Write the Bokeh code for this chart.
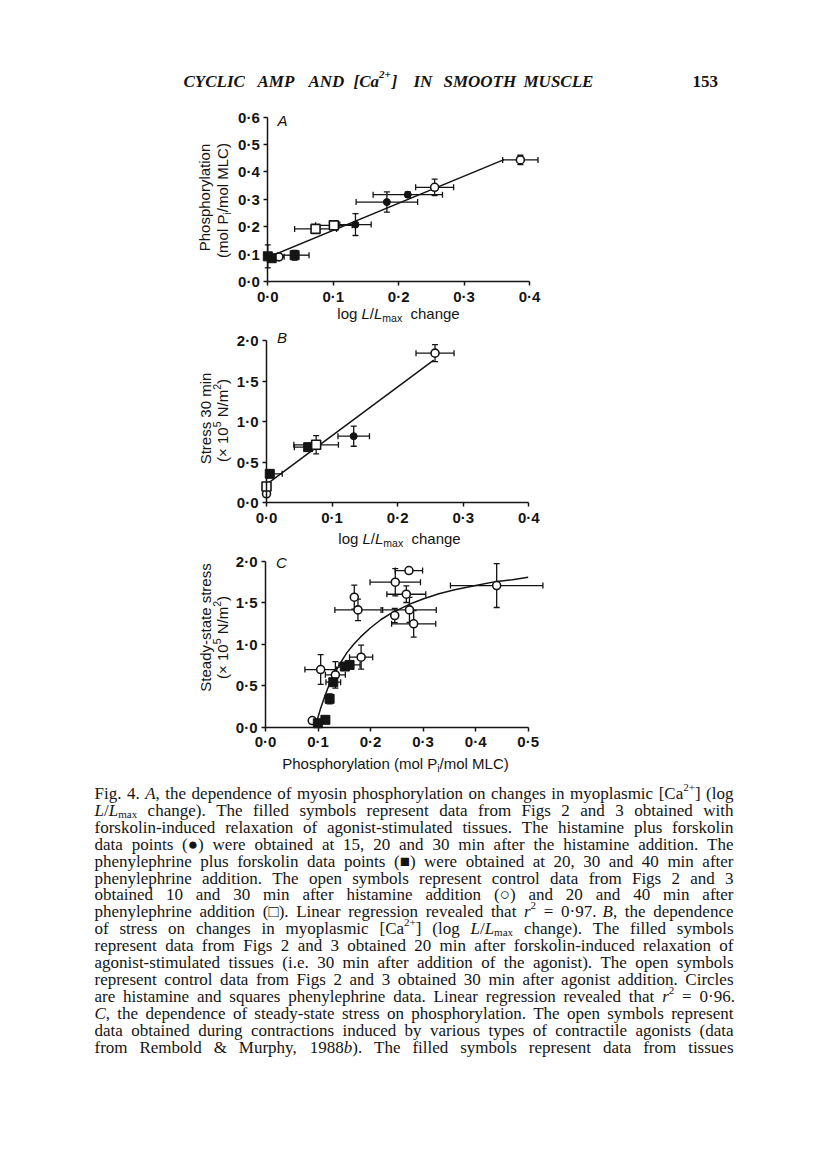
import math
from bokeh.plotting import figure
from bokeh.models import (Range1d, Whisker, ColumnDataSource, Label,
                          CustomJSTickFormatter, FixedTicker, TeeHead)
from bokeh.layouts import column
from bokeh.embed import file_html
from bokeh.resources import INLINE
from bokeh.core.properties import value

INK = "#141414"
SANS = "Liberation Sans"
SERIF = "Liberation Serif"
PAGE_W = 816

# ============================ DATA ============================
# ---- Panel A: phosphorylation vs log L/Lmax change ----
a_ticks_x = [0.0, 0.1, 0.2, 0.3, 0.4]
a_ticks_y = [0.0, 0.1, 0.2, 0.3, 0.4, 0.5, 0.6]
# histamine + forskolin (filled circles)
a_hf_x = [0.134, 0.182, 0.214]
a_hf_y = [0.208, 0.290, 0.317]
a_hf_xerr = [0.024, 0.047, 0.053]
a_hf_yerr = [0.040, 0.037, 0.010]
# phenylephrine + forskolin (filled squares)
a_pf_x = [0.000, 0.006, 0.041]
a_pf_y = [0.092, 0.085, 0.096]
a_pf_xerr = [0.0, 0.0, 0.022]
a_pf_yerr = [0.042, 0.0, 0.018]
# histamine control (open circles)
a_hc_x = [0.017, 0.255, 0.386]
a_hc_y = [0.090, 0.344, 0.444]
a_hc_xerr = [0.008, 0.029, 0.027]
a_hc_yerr = [0.0, 0.030, 0.017]
# phenylephrine control (open squares)
a_pc_x = [0.073, 0.101]
a_pc_y = [0.192, 0.205]
a_pc_xerr = [0.032, 0.028]
a_pc_yerr = [0.012, 0.014]
# linear regression line (r2 = 0.97), end points
a_fit_x = [0.0, 0.361]
a_fit_y = [0.088, 0.445]

# ---- Panel B: stress 30 min vs log L/Lmax change ----
b_ticks_x = [0.0, 0.1, 0.2, 0.3, 0.4]
b_ticks_y = [0.0, 0.5, 1.0, 1.5, 2.0]
b_hf_x = [0.133]
b_hf_y = [0.821]
b_hf_xerr = [0.024]
b_hf_yerr = [0.124]
b_pf_x = [0.0635, 0.005]
b_pf_y = [0.686, 0.357]
b_pf_xerr = [(0.021, 0.0), (0.0, 0.019)]
b_pf_yerr = [0.0, 0.0]
b_hc_x = [0.257, 0.0]
b_hc_y = [1.844, 0.111]
b_hc_xerr = [0.029, 0.0]
b_hc_yerr = [0.105, 0.0]
b_pc_x = [0.0757, 0.0]
b_pc_y = [0.715, 0.201]
b_pc_xerr = [0.034, 0.0]
b_pc_yerr = [0.113, 0.0]
b_fit_x = [0.0, 0.255]
b_fit_y = [0.226, 1.757]

# ---- Panel C: steady-state stress vs phosphorylation ----
c_ticks_x = [0.0, 0.1, 0.2, 0.3, 0.4, 0.5]
c_ticks_y = [0.0, 0.5, 1.0, 1.5, 2.0]
c_open_x = [0.089, 0.105, 0.133, 0.169, 0.176, 0.182, 0.246, 0.247, 0.268, 0.273, 0.274, 0.282, 0.440]
c_open_y = [0.080, 0.696, 0.632, 1.569, 1.416, 0.845, 1.348, 1.750, 1.605, 1.891, 1.416, 1.248, 1.710]
c_open_xerr = [0.005, 0.030, 0.019, 0.0, 0.044, 0.022, 0.0, 0.048, 0.037, 0.026, 0.051, 0.042, 0.088]
c_open_yerr = [0.0, 0.180, 0.160, 0.145, 0.130, 0.145, 0.085, 0.165, 0.100, 0.0, 0.150, 0.160, 0.265]
c_fill_x = [0.0996, 0.114, 0.122, 0.129, 0.151, 0.160]
c_fill_y = [0.048, 0.089, 0.342, 0.543, 0.732, 0.752]
c_fill_xerr = [0.0, 0.0, 0.0, 0.014, 0.0, 0.020]
c_fill_yerr = [0.0, 0.0, 0.060, 0.0, 0.0, 0.0]
# hyperbolic curve, points
c_curve_x = [0.095, 0.100, 0.105, 0.111, 0.118, 0.125, 0.134, 0.143, 0.155, 0.168, 0.181,
             0.200, 0.220, 0.238, 0.260, 0.280, 0.301, 0.330, 0.360, 0.400, 0.440, 0.470, 0.500]
c_curve_y = [0.00, 0.12, 0.23, 0.34, 0.46, 0.57, 0.68, 0.78, 0.90, 1.00, 1.09,
             1.20, 1.30, 1.37, 1.44, 1.50, 1.55, 1.61, 1.66, 1.71, 1.76, 1.78, 1.81]

# ---- texts ----
HEADER_WORDS = ["CYCLIC", "AMP", "AND", "[Ca", "2+", "]", "IN", "SMOOTH", "MUSCLE"]
PAGE_NUMBER = "153"
CAPTION = [
    "Fig. 4. *A*, the dependence of myosin phosphorylation on changes in myoplasmic [Ca^2+^] (log",
    "*L*/*L*~max~ change). The filled symbols represent data from Figs 2 and 3 obtained with",
    "forskolin-induced relaxation of agonist-stimulated tissues. The histamine plus forskolin",
    "data points (\u25cf) were obtained at 15, 20 and 30 min after the histamine addition. The",
    "phenylephrine plus forskolin data points (\u25a0) were obtained at 20, 30 and 40 min after",
    "phenylephrine addition. The open symbols represent control data from Figs 2 and 3",
    "obtained 10 and 30 min after histamine addition (\u25cb) and 20 and 40 min after",
    "phenylephrine addition (\u25a1). Linear regression revealed that *r*^2^ = 0\u00b797. *B*, the dependence",
    "of stress on changes in myoplasmic [Ca^2+^] (log *L*/*L*~max~ change). The filled symbols",
    "represent data from Figs 2 and 3 obtained 20 min after forskolin-induced relaxation of",
    "agonist-stimulated tissues (i.e. 30 min after addition of the agonist). The open symbols",
    "represent control data from Figs 2 and 3 obtained 30 min after agonist addition. Circles",
    "are histamine and squares phenylephrine data. Linear regression revealed that *r*^2^ = 0\u00b796.",
    "*C*, the dependence of steady-state stress on phosphorylation. The open symbols represent",
    "data obtained during contractions induced by various types of contractile agonists (data",
    "from Rembold & Murphy, 1988*b*). The filled symbols represent data from tissues",
]

# ====================== font metrics (approx.) ======================
HELV = {' ': 278, '(': 333, ')': 333, '/': 278, '-': 333, '\u00d7': 584, '\u00b7': 278, '.': 278}
for d in "0123456789":
    HELV[d] = 556
HELV.update(dict(zip("ABCDEFGHIJKLMNOPQRSTUVWXYZ",
                     [667, 667, 722, 722, 667, 611, 778, 722, 278, 500, 667, 556, 833, 722, 778,
                      667, 778, 722, 667, 611, 722, 667, 944, 667, 667, 611])))
HELV.update(dict(zip("abcdefghijklmnopqrstuvwxyz",
                     [556, 556, 500, 556, 556, 278, 556, 556, 222, 222, 500, 222, 833, 556, 556,
                      556, 556, 333, 500, 278, 556, 500, 722, 500, 500, 500])))

TIMES = {' ': 250, '!': 333, '&': 778, "'": 333, '(': 333, ')': 333, '+': 564, ',': 250, '-': 333,
         '.': 250, '/': 278, ':': 278, ';': 278, '=': 564, '[': 333, ']': 333, '\u00b7': 250,
         '\u25cf': 604, '\u25a0': 604, '\u25cb': 604, '\u25a1': 604}
for d in "0123456789":
    TIMES[d] = 500
TIMES.update(dict(zip("ABCDEFGHIJKLMNOPQRSTUVWXYZ",
                      [722, 667, 667, 722, 611, 556, 722, 722, 333, 389, 722, 611, 889, 722, 722,
                       556, 722, 667, 556, 611, 722, 722, 944, 722, 722, 611])))
TIMES.update(dict(zip("abcdefghijklmnopqrstuvwxyz",
                      [444, 500, 444, 500, 444, 333, 500, 500, 278, 278, 500, 278, 778, 500, 500,
                       500, 500, 333, 389, 278, 500, 500, 722, 500, 500, 444])))
TIMES_I = dict(TIMES)
TIMES_I.update({'A': 611, 'B': 611, 'C': 667, 'L': 556, 'r': 389, 'b': 500})


def tw(s, table, size):
    return sum(table.get(ch, 556) for ch in s) * size / 1000.0


def blank(p):
    p.grid.visible = False
    p.outline_line_color = None
    p.background_fill_color = "white"
    p.border_fill_color = "white"


# ====================== panels ======================
# Each figure's frame fills its whole canvas (min_border=0); the axes are pinned at 0.
def make_panel(fig_top, fig_h, xref, yref):
    x0px, x1px, x1v = xref
    y0px, y1px, y1v = yref
    ppux = (x1px - x0px) / x1v
    ppuy = (y0px - y1px) / y1v
    p = figure(width=PAGE_W, height=fig_h,
               x_range=Range1d((0 - x0px) / ppux, (PAGE_W - x0px) / ppux),
               y_range=Range1d((y0px - (fig_top + fig_h)) / ppuy, (y0px - fig_top) / ppuy),
               min_border=0, output_backend="svg", toolbar_location=None)
    blank(p)

    def pm(px, py):
        return (px - x0px) / ppux, (y0px - py) / ppuy
    return p, pm


def style_axes(p, xticks, yticks):
    for ax, ticks in ((p.xaxis[0], xticks), (p.yaxis[0], yticks)):
        ax.fixed_location = 0.0
        ax.ticker = FixedTicker(ticks=ticks, minor_ticks=[])
        ax.bounds = (ticks[0], ticks[-1])
        ax.formatter = CustomJSTickFormatter(code="return tick.toFixed(1).replace('.', '\u00b7');")
        ax.axis_line_color = INK
        ax.axis_line_width = 1.5
        ax.major_tick_line_color = INK
        ax.major_tick_line_width = 1.5
        ax.major_tick_in = 0
        ax.major_tick_out = 4
        ax.minor_tick_line_color = None
        ax.major_label_text_font = SANS
        ax.major_label_text_font_size = "15px"
        ax.major_label_text_font_style = "bold"
        ax.major_label_text_color = INK
    p.xaxis[0].major_label_standoff = 2
    p.yaxis[0].major_label_standoff = 4


def add_errors(p, xs, ys, xerr, yerr):
    hb, hl, hu, vb, vl, vu = [], [], [], [], [], []
    for x, y, ex, ey in zip(xs, ys, xerr, yerr):
        lo, hi = ex if isinstance(ex, (tuple, list)) else (ex, ex)
        if lo > 0 or hi > 0:
            hb.append(y); hl.append(x - lo); hu.append(x + hi)
        if ey > 0:
            vb.append(x); vl.append(y - ey); vu.append(y + ey)
    for base, lower, upper, dim in ((hb, hl, hu, "width"), (vb, vl, vu, "height")):
        if not base:
            continue
        src = ColumnDataSource(dict(base=base, lower=lower, upper=upper))
        p.add_layout(Whisker(source=src, base="base", lower="lower", upper="upper",
                             dimension=dim, line_color=INK, line_width=1.3,
                             upper_head=TeeHead(size=6, line_color=INK, line_width=1.3),
                             lower_head=TeeHead(size=6, line_color=INK, line_width=1.3)))


def pts(p, xs, ys, marker, filled, size):
    p.scatter(xs, ys, marker=marker, size=size,
              fill_color=INK if filled else "white", line_color=INK,
              line_width=1.0 if filled else 1.6)


def rich(p, pm, pieces, cx, cy, vertical=False):
    widths = [tw(t, HELV, s) for t, s, _, _ in pieces]
    total = sum(widths)
    pos = -total / 2.0
    for (t, s, st, sh), w in zip(pieces, widths):
        body = t.lstrip(" ")
        lead = tw(t[:len(t) - len(body)], HELV, s)
        if vertical:
            px, py = cx - sh, cy - (pos + lead)
        else:
            px, py = cx + pos + lead, cy - sh
        x, y = pm(px, py)
        p.add_layout(Label(x=x, y=y, text=body, text_font=SANS, text_font_size="%gpx" % s,
                           text_font_style=st, text_color=INK, text_align="left",
                           text_baseline="middle", angle=(math.pi / 2 if vertical else 0.0)))
        pos += w


F = 15
FS = 10.5
LOGL = [("log ", F, "normal", 0), ("L", F, "italic", 0), ("/", F, "normal", 0),
        ("L", F, "italic", 0), ("max", FS, "normal", -4), ("  change", F, "normal", 0)]
STRESS_UNIT = [("(\u00d7 10", F, "normal", 0), ("5", FS, "normal", 5.5), (" N/m", F, "normal", 0),
               ("2", FS, "normal", 5.5), (")", F, "normal", 0)]
MLC_UNIT = [("(mol P", F, "normal", 0), ("i", FS, "normal", -4), ("/mol MLC)", F, "normal", 0)]

# layout of the page (screen pixels, top to bottom)
H_TOP, A_TOP, B_TOP, C_TOP, CAP_TOP, END = 0, 95, 327, 551, 778, 1160

# ---- A ----
pA, mA = make_panel(A_TOP, B_TOP - A_TOP, (267.3, 529.0, 0.4), (281.0, 116.7, 0.6))
style_axes(pA, a_ticks_x, a_ticks_y)
pA.line(a_fit_x, a_fit_y, line_color=INK, line_width=1.5)
add_errors(pA, a_hf_x, a_hf_y, a_hf_xerr, a_hf_yerr)
add_errors(pA, a_pf_x, a_pf_y, a_pf_xerr, a_pf_yerr)
add_errors(pA, a_hc_x, a_hc_y, a_hc_xerr, a_hc_yerr)
add_errors(pA, a_pc_x, a_pc_y, a_pc_xerr, a_pc_yerr)
pts(pA, a_hc_x, a_hc_y, "circle", False, 8)
pts(pA, a_pc_x, a_pc_y, "square", False, 9)
pts(pA, a_hf_x, a_hf_y, "circle", True, 7)
pts(pA, a_pf_x, a_pf_y, "square", True, 9)
rich(pA, mA, [("A", F, "italic", 0)], 282, 120)
rich(pA, mA, LOGL, 398, 313)
rich(pA, mA, [("Phosphorylation", F, "normal", 0)], 204, 197, vertical=True)
rich(pA, mA, MLC_UNIT, 222, 200, vertical=True)

# ---- B ----
pB, mB = make_panel(B_TOP, C_TOP - B_TOP, (266.0, 528.3, 0.4), (502.3, 340.0, 2.0))
style_axes(pB, b_ticks_x, b_ticks_y)
pB.line(b_fit_x, b_fit_y, line_color=INK, line_width=1.5)
add_errors(pB, b_hf_x, b_hf_y, b_hf_xerr, b_hf_yerr)
add_errors(pB, b_pf_x, b_pf_y, b_pf_xerr, b_pf_yerr)
add_errors(pB, b_hc_x, b_hc_y, b_hc_xerr, b_hc_yerr)
add_errors(pB, b_pc_x, b_pc_y, b_pc_xerr, b_pc_yerr)
pts(pB, b_hc_x, b_hc_y, "circle", False, 8)
pts(pB, b_pf_x, b_pf_y, "square", True, 9)
pts(pB, b_pc_x, b_pc_y, "square", False, 9)
pts(pB, b_hf_x, b_hf_y, "circle", True, 7)
rich(pB, mB, [("B", F, "italic", 0)], 281.5, 337)
rich(pB, mB, LOGL, 399, 538)
rich(pB, mB, [("Stress 30 min", F, "normal", 0)], 205, 418, vertical=True)
rich(pB, mB, STRESS_UNIT, 222, 420, vertical=True)

# ---- C ----
pC, mC = make_panel(C_TOP, CAP_TOP - C_TOP, (265.0, 527.7, 0.5), (726.7, 561.0, 2.0))
style_axes(pC, c_ticks_x, c_ticks_y)
pC.line(c_curve_x, c_curve_y, line_color=INK, line_width=1.5)
add_errors(pC, c_open_x, c_open_y, c_open_xerr, c_open_yerr)
add_errors(pC, c_fill_x, c_fill_y, c_fill_xerr, c_fill_yerr)
pts(pC, c_open_x, c_open_y, "circle", False, 8)
pts(pC, c_fill_x, c_fill_y, "square", True, 9)
rich(pC, mC, [("C", F, "italic", 0)], 281, 562)
rich(pC, mC, [("Phosphorylation (mol P", F, "normal", 0), ("i", FS, "normal", -4),
              ("/mol MLC)", F, "normal", 0)], 395, 763)
rich(pC, mC, [("Steady-state stress", F, "normal", 0)], 205, 627, vertical=True)
rich(pC, mC, STRESS_UNIT, 222, 637, vertical=True)


# ====================== header & caption ======================
def text_fig(top, h):
    p = figure(width=PAGE_W, height=h, x_range=Range1d(0, PAGE_W), y_range=Range1d(top + h, top),
               x_axis_type=None, y_axis_type=None, min_border=0,
               output_backend="svg", toolbar_location=None)
    blank(p)
    return p


header = text_fig(H_TOP, A_TOP - H_TOP)
hx = [183, 257, 308, 353, None, None, 413, 443, 523]
HS = 17
x_ca = hx[3] + tw("[Ca", TIMES_I, HS) + 1
hx[4] = x_ca
hx[5] = x_ca + tw("2+", TIMES, 11) + 1
main_idx = [0, 1, 2, 3, 5, 6, 7, 8]
header.text(x=[hx[i] for i in main_idx], y=[81] * len(main_idx),
            text=[HEADER_WORDS[i] for i in main_idx],
            text_font=value(SERIF), text_font_size="%dpx" % HS, text_font_style="bold italic",
            text_color=INK, text_baseline="alphabetic", text_align="left")
header.text(x=[hx[4]], y=[74], text=[HEADER_WORDS[4]],
            text_font=value(SERIF), text_font_size="11px", text_font_style="bold italic",
            text_color=INK, text_baseline="alphabetic", text_align="left")
header.text(x=[692], y=[81], text=[PAGE_NUMBER], text_font=value(SERIF),
            text_font_size="17px", text_font_style="bold", text_color=INK,
            text_baseline="alphabetic", text_align="left")

cap = text_fig(CAP_TOP, END - CAP_TOP)
LEFT, RIGHT = 94.0, 733.0
W = RIGHT - LEFT


def parse_word(w):
    segs, mode, buf = [], "r", ""
    for ch in w:
        if ch in "*^~":
            if buf:
                segs.append((buf, mode))
                buf = ""
            tgt = {"*": "i", "^": "sup", "~": "sub"}[ch]
            mode = "r" if mode == tgt else tgt
        else:
            buf += ch
    if buf:
        segs.append((buf, mode))
    return segs


def seg_w(t, mode, f):
    if mode == "i":
        return tw(t, TIMES_I, f)
    if mode in ("sup", "sub"):
        return tw(t, TIMES, f * 0.65)
    return tw(t, TIMES, f)


parsed = [[parse_word(w) for w in line.split(" ")] for line in CAPTION]
CF = 17.0
while True:
    ok = True
    for words in parsed:
        nat = sum(seg_w(t, m, CF) for w in words for t, m in w)
        if nat + 0.24 * CF * (len(words) - 1) > W:
            ok = False
    if ok or CF < 12:
        break
    CF -= 0.25

srcs = {m: dict(x=[], y=[], text=[]) for m in ("r", "i", "sup", "sub")}
for li, words in enumerate(parsed):
    base = 793.0 + 16.9 * li
    wws = [sum(seg_w(t, m, CF) for t, m in w) for w in words]
    gap = (W - sum(wws)) / max(len(words) - 1, 1)
    x = LEFT
    for w, ww in zip(words, wws):
        xx = x
        for t, m in w:
            yy = base
            if m == "sup":
                yy = base - 0.36 * CF
            elif m == "sub":
                yy = base + 0.22 * CF
            srcs[m]["x"].append(xx)
            srcs[m]["y"].append(yy)
            srcs[m]["text"].append(t)
            xx += seg_w(t, m, CF)
        x += ww + gap

for m, d in srcs.items():
    if not d["x"]:
        continue
    size = CF if m in ("r", "i") else CF * 0.65
    cap.text(x="x", y="y", text="text", source=ColumnDataSource(d),
             text_font=value(SERIF), text_font_size="%.2fpx" % size,
             text_font_style="italic" if m == "i" else "normal",
             text_color=INK, text_baseline="alphabetic", text_align="left")

layout = column(header, pA, pB, pC, cap, spacing=0)
open("out.html", "w").write(file_html(layout, INLINE))
